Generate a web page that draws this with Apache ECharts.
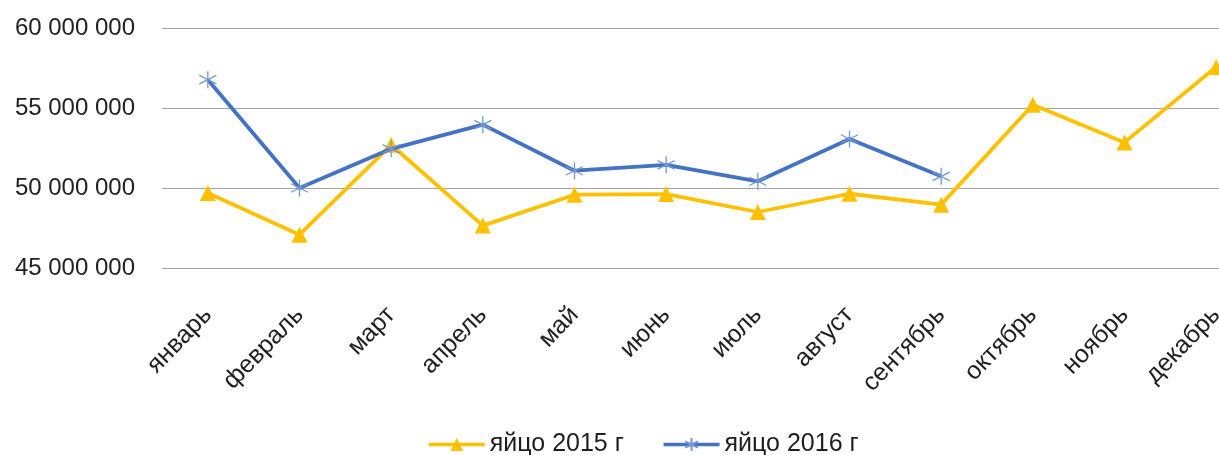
<!DOCTYPE html>
<html>
<head>
<meta charset="utf-8">
<script src="https://cdn.jsdelivr.net/npm/echarts@6/dist/echarts.min.js"></script>
<style>
html,body{margin:0;padding:0;background:#fff;}
#chart{width:1219px;height:455px;}
</style>
</head>
<body>
<div id="chart"></div>
<script>
var months = ['январь','февраль','март','апрель','май','июнь','июль','август','сентябрь','октябрь','ноябрь','декабрь'];
var egg2015 = [49690000, 47080000, 52700000, 47650000, 49580000, 49620000, 48500000, 49640000, 48960000, 55200000, 52850000, 57560000];
var egg2016 = [56770000, 50000000, 52450000, 53960000, 51080000, 51450000, 50420000, 53060000, 50730000, null, null, null];
var seriesNames = ['яйцо 2015 г', 'яйцо 2016 г'];
var yTicks = {min: 45000000, max: 60000000, step: 5000000};

var font = '"Liberation Sans", Arial, sans-serif';
var textColor = '#1f1f1f';
var starPath = 'path://M0,-10L0,10M-8.66,-5L8.66,5M-8.66,5L8.66,-5';

function fmt(v) {
  return String(v).replace(/\B(?=(\d{3})+(?!\d))/g, ' ');
}

var chart = echarts.init(document.getElementById('chart'));
chart.setOption({
  animation: false,
  backgroundColor: '#ffffff',
  grid: {left: 162, width: 1100, top: 28, height: 240, containLabel: false, outerBoundsMode: 'none'},
  legend: {
    top: 427,
    left: 422,
    itemWidth: 56,
    itemHeight: 16,
    itemGap: 38,
    lineStyle: {width: 3.5},
    textStyle: {fontFamily: font, fontSize: 25, color: textColor, padding: [0, 0, 0, 0]},
    data: seriesNames
  },
  xAxis: {
    type: 'category',
    data: months,
    boundaryGap: true,
    axisLine: {show: false},
    axisTick: {show: false},
    axisLabel: {rotate: 46, margin: 43, fontFamily: font, fontSize: 25, color: textColor, interval: 0}
  },
  yAxis: {
    type: 'value',
    min: yTicks.min,
    max: yTicks.max,
    interval: yTicks.step,
    axisLine: {show: false},
    axisTick: {show: false},
    splitLine: {lineStyle: {color: '#a6a6a6', width: 1.2}},
    axisLabel: {margin: 27, fontFamily: font, fontSize: 24, color: textColor, formatter: fmt}
  },
  series: [
    {
      name: seriesNames[0],
      type: 'line',
      data: egg2015,
      symbol: 'triangle',
      symbolSize: 16,
      itemStyle: {color: '#FFC000'},
      lineStyle: {color: '#FFC000', width: 3.8},
      z: 2
    },
    {
      name: seriesNames[1],
      type: 'line',
      data: egg2016,
      symbol: starPath,
      symbolSize: 17,
      connectNulls: false,
      itemStyle: {color: '#4472C4', borderColor: '#7597D6', borderWidth: 1.3},
      lineStyle: {color: '#4472C4', width: 3.8},
      z: 3
    }
  ]
});
</script>
</body>
</html>
